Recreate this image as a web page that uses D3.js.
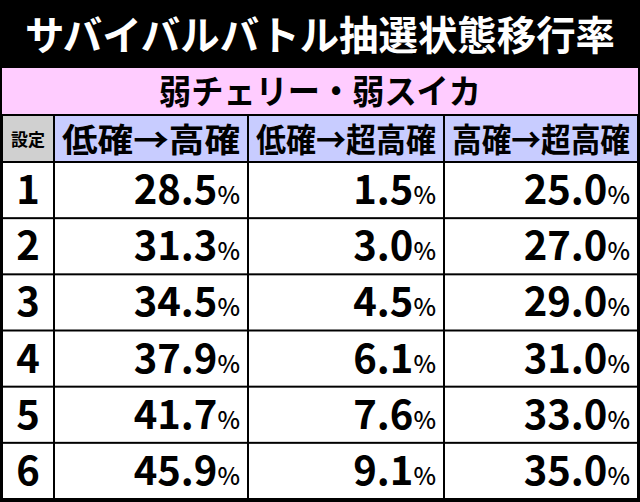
<!DOCTYPE html>
<html>
<head>
<meta charset="utf-8">
<script src="https://cdn.jsdelivr.net/npm/d3@7"></script>
<style>
  body { margin: 0; background: #000; }
  text { font-family: "Noto Sans CJK JP", sans-serif; font-weight: 700; }
</style>
</head>
<body>
<script>
var title = "サバイバルバトル抽選状態移行率";
var subtitle = "弱チェリー・弱スイカ";
var headers = ["設定", "低確→高確", "低確→超高確", "高確→超高確"];
var settings = ["1", "2", "3", "4", "5", "6"];
var lowToHigh = [28.5, 31.3, 34.5, 37.9, 41.7, 45.9];
var lowToSuper = [1.5, 3.0, 4.5, 6.1, 7.6, 9.1];
var highToSuper = [25.0, 27.0, 29.0, 31.0, 33.0, 35.0];
var series = [lowToHigh, lowToSuper, highToSuper];

var W = 640, H = 502;
var svg = d3.select("body").append("svg").attr("width", W).attr("height", H);
svg.append("rect").attr("width", W).attr("height", H).attr("fill", "#000");

// column edges and row edges
var colX = [2, 54, 248, 444, 638];
var y = d3.scaleBand().domain(settings).range([162, 499]).paddingInner(0);

svg.append("text").attr("x", W / 2).attr("y", 50).attr("text-anchor", "middle")
  .attr("fill", "#fff").attr("font-size", 40)
  .attr("textLength", 590).attr("lengthAdjust", "spacingAndGlyphs").text(title);

svg.append("rect").attr("x", 2).attr("y", 68).attr("width", 636).attr("height", 46).attr("fill", "#ffccff");
svg.append("text").attr("x", W / 2).attr("y", 104).attr("text-anchor", "middle")
  .attr("fill", "#000").attr("font-size", 34)
  .attr("textLength", 322).attr("lengthAdjust", "spacingAndGlyphs").text(subtitle);

headers.forEach(function (h, i) {
  svg.append("rect").attr("x", colX[i] + 1).attr("y", 116)
    .attr("width", colX[i + 1] - colX[i] - 2).attr("height", 45)
    .attr("fill", i === 0 ? "#d0d0d0" : "#c8ccff");
  svg.append("text").attr("x", (colX[i] + colX[i + 1]) / 2).attr("y", i === 0 ? 146 : 152)
    .attr("text-anchor", "middle").attr("font-size", i === 0 ? 17 : 33)
    .attr("textLength", i === 0 ? null : colX[i + 1] - colX[i] - 16)
    .attr("lengthAdjust", "spacingAndGlyphs")
    .text(h);
});

settings.forEach(function (s, r) {
  var top = y(s), bh = y.bandwidth();
  for (var i = 0; i < 4; i++) {
    svg.append("rect").attr("x", colX[i] + 1).attr("y", top + 1)
      .attr("width", colX[i + 1] - colX[i] - 2).attr("height", bh - 2).attr("fill", "#fff");
  }
  svg.append("text").attr("x", (colX[0] + colX[1]) / 2).attr("y", top + bh / 2 + 14)
    .attr("text-anchor", "middle").attr("font-size", 40).text(s);
  series.forEach(function (vals, c) {
    var t = svg.append("text").attr("x", colX[c + 2] - 8).attr("y", top + bh / 2 + 14)
      .attr("text-anchor", "end").attr("font-size", 40);
    t.append("tspan").text(vals[r].toFixed(1));
    t.append("tspan").attr("font-size", 24).attr("font-weight", 500).text("%");
  });
});
</script>
</body>
</html>
